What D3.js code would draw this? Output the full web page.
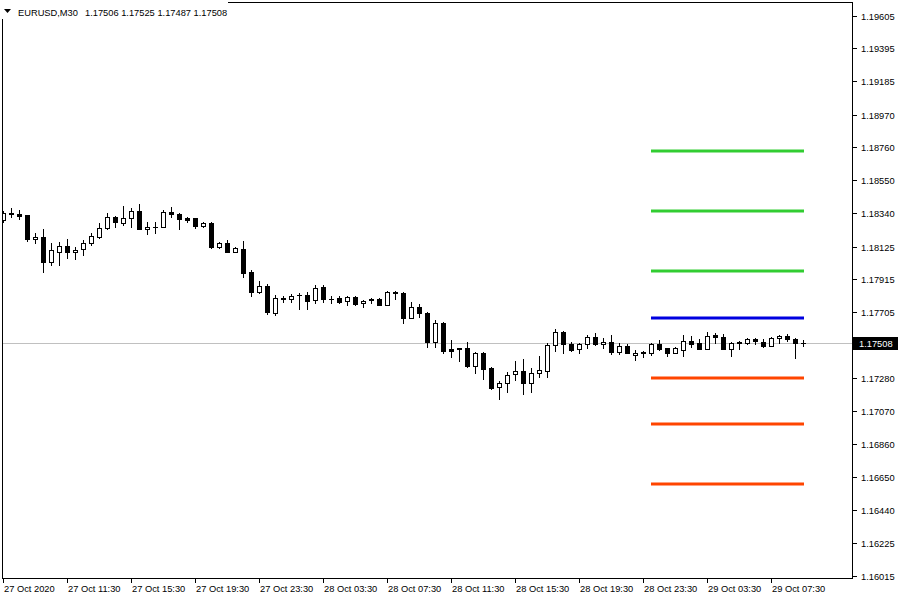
<!DOCTYPE html>
<html><head><meta charset="utf-8">
<script src="https://cdn.jsdelivr.net/npm/d3@7/dist/d3.min.js"></script>
<style>
html,body{margin:0;padding:0;background:#fff;}
svg{display:block;}
text{font-family:"Liberation Sans",Arial,sans-serif;font-size:9.3px;}
</style></head>
<body>
<svg id="chart" width="900" height="600"></svg>
<script>
const symbol = "EURUSD,M30";
const lastQuote = ["1.17506","1.17525","1.17487","1.17508"];
const currentPrice = 1.17508;

const openP = [1.18296,1.18338,1.18335,1.18328,1.18175,1.18188,1.18028,1.18092,1.18130,1.18092,
1.18111,1.18149,1.18188,1.18245,1.18315,1.18277,1.18309,1.18354,1.18239,1.18252,
1.18250,1.18347,1.18335,1.18309,1.18305,1.18258,1.18277,1.18124,1.18149,1.18092,
1.18111,1.17964,1.17836,1.17874,1.17701,1.17797,1.17791,1.17812,1.17816,1.17784,
1.17868,1.17791,1.17797,1.17778,1.17804,1.17765,1.17782,1.17791,1.17752,1.17833,
1.17829,1.17669,1.17740,1.17701,1.17515,1.17637,1.17471,1.17477,1.17477,1.17362,
1.17445,1.17349,1.17228,1.17253,1.17311,1.17330,1.17253,1.17317,1.17330,1.17496,
1.17580,1.17503,1.17471,1.17503,1.17548,1.17503,1.17515,1.17452,1.17490,1.17432,
1.17443,1.17445,1.17503,1.17477,1.17445,1.17464,1.17522,1.17509,1.17471,1.17560,
1.17548,1.17471,1.17515,1.17509,1.17535,1.17515,1.17490,1.17541,1.17554,1.17535,
1.17506];
const highP = [1.18354,1.18373,1.18360,1.18330,1.18213,1.18239,1.18149,1.18156,1.18175,1.18124,
1.18168,1.18213,1.18277,1.18341,1.18318,1.18386,1.18373,1.18399,1.18284,1.18284,
1.18360,1.18379,1.18341,1.18315,1.18309,1.18284,1.18284,1.18156,1.18168,1.18124,
1.18162,1.17976,1.17906,1.17887,1.17816,1.17810,1.17823,1.17829,1.17836,1.17880,
1.17880,1.17810,1.17810,1.17810,1.17806,1.17780,1.17797,1.17793,1.17842,1.17842,
1.17836,1.17772,1.17759,1.17704,1.17656,1.17640,1.17528,1.17478,1.17515,1.17452,
1.17452,1.17356,1.17266,1.17324,1.17394,1.17407,1.17349,1.17426,1.17509,1.17599,
1.17586,1.17515,1.17509,1.17560,1.17573,1.17541,1.17560,1.17509,1.17503,1.17464,
1.17458,1.17509,1.17528,1.17478,1.17483,1.17560,1.17554,1.17535,1.17580,1.17573,
1.17567,1.17512,1.17518,1.17541,1.17541,1.17535,1.17544,1.17560,1.17567,1.17537,
1.17525];
const lowP = [1.18284,1.18315,1.18303,1.18162,1.18149,1.17964,1.18008,1.18008,1.18053,1.18047,
1.18072,1.18136,1.18181,1.18240,1.18252,1.18264,1.18252,1.18236,1.18207,1.18213,
1.18248,1.18315,1.18239,1.18284,1.18245,1.18252,1.18117,1.18117,1.18088,1.18088,
1.17932,1.17810,1.17830,1.17695,1.17688,1.17772,1.17772,1.17727,1.17727,1.17765,
1.17772,1.17765,1.17765,1.17752,1.17752,1.17740,1.17765,1.17750,1.17750,1.17791,
1.17637,1.17666,1.17676,1.17483,1.17483,1.17445,1.17420,1.17394,1.17356,1.17317,
1.17279,1.17215,1.17151,1.17196,1.17272,1.17183,1.17196,1.17292,1.17292,1.17458,
1.17445,1.17458,1.17445,1.17477,1.17496,1.17477,1.17439,1.17439,1.17442,1.17400,
1.17420,1.17432,1.17464,1.17426,1.17442,1.17426,1.17483,1.17468,1.17468,1.17509,
1.17468,1.17426,1.17471,1.17503,1.17503,1.17483,1.17487,1.17509,1.17522,1.17413,
1.17487];
const closeP = [1.18341,1.18335,1.18322,1.18175,1.18188,1.18028,1.18104,1.18130,1.18092,1.18104,
1.18149,1.18194,1.18245,1.18315,1.18284,1.18309,1.18354,1.18239,1.18252,1.18248,
1.18347,1.18335,1.18303,1.18296,1.18258,1.18277,1.18124,1.18149,1.18092,1.18117,
1.17957,1.17836,1.17874,1.17708,1.17797,1.17791,1.17810,1.17816,1.17778,1.17861,
1.17791,1.17788,1.17772,1.17804,1.17759,1.17778,1.17786,1.17752,1.17836,1.17829,
1.17669,1.17740,1.17701,1.17515,1.17637,1.17458,1.17458,1.17471,1.17362,1.17445,
1.17343,1.17221,1.17253,1.17304,1.17330,1.17253,1.17317,1.17336,1.17496,1.17580,
1.17503,1.17464,1.17503,1.17548,1.17503,1.17515,1.17452,1.17490,1.17445,1.17445,
1.17447,1.17503,1.17471,1.17445,1.17477,1.17522,1.17503,1.17471,1.17554,1.17548,
1.17471,1.17509,1.17509,1.17535,1.17522,1.17490,1.17541,1.17554,1.17535,1.17509,
1.17508];

const timeLabels = ["27 Oct 2020","27 Oct 11:30","27 Oct 15:30","27 Oct 19:30","27 Oct 23:30",
"28 Oct 03:30","28 Oct 07:30","28 Oct 11:30","28 Oct 15:30","28 Oct 19:30","28 Oct 23:30",
"29 Oct 03:30","29 Oct 07:30"];
const barsPerLabel = 8;

const priceTicks = ["1.19605","1.19395","1.19185","1.18970","1.18760","1.18550","1.18340","1.18125",
"1.17915","1.17705","1.17280","1.17070","1.16860","1.16650","1.16440","1.16225","1.16015"];

const levelPrices = [1.18738,1.18353,1.17969,1.17668,1.17284,1.16989,1.16605];
const levelColors = ["#32cd32","#32cd32","#32cd32","#0000e0","#ff4500","#ff4500","#ff4500"];
const levelStartBar = 81, levelEndBar = 100;

const svg = d3.select("#chart");
const W = 900, H = 600;
const plot = {left:2, top:2, right:852, bottom:578};

const n = openP.length;
const x = d3.scaleLinear().domain([0, n-1]).range([3, 803]);
const y = d3.scaleLinear().domain([1.16015, 1.19605]).range([576, 15.5]);
const py = v => Math.round(y(v));

svg.append("rect").attr("width",W).attr("height",H).attr("fill","#fff");

svg.append("defs").append("clipPath").attr("id","clip").append("rect")
  .attr("x",plot.left+1).attr("y",plot.top+1)
  .attr("width",plot.right-plot.left-1).attr("height",plot.bottom-plot.top-1);

const g = svg.append("g").attr("clip-path","url(#clip)");

// current price line
g.append("line").attr("x1",plot.left).attr("x2",plot.right)
  .attr("y1",py(currentPrice)+0.5).attr("y2",py(currentPrice)+0.5)
  .attr("stroke","#c0c0c0").attr("stroke-width",1);

// levels
g.selectAll("line.level").data(levelPrices).join("line").attr("class","level")
  .attr("x1",x(levelStartBar)).attr("x2",x(levelEndBar)+1)
  .attr("y1",d=>py(d)).attr("y2",d=>py(d))
  .attr("stroke",(d,i)=>levelColors[i]).attr("stroke-width",3);

const bars = d3.range(n).map(i=>({i,o:openP[i],h:highP[i],l:lowP[i],c:closeP[i]}));

// wicks
g.selectAll("line.wick").data(bars).join("line").attr("class","wick")
  .attr("x1",d=>x(d.i)+0.5).attr("x2",d=>x(d.i)+0.5)
  .attr("y1",d=>py(d.h)).attr("y2",d=>py(d.l)+1)
  .attr("stroke","#000").attr("stroke-width",1);

// bodies
bars.forEach(d=>{
  const cx = x(d.i);
  const t = py(Math.max(d.o,d.c)), b = py(Math.min(d.o,d.c));
  if (b - t < 1) {
    g.append("rect").attr("x",cx-2).attr("y",t).attr("width",5).attr("height",1).attr("fill","#000");
  } else if (d.c > d.o) {
    g.append("rect").attr("x",cx-2+0.5).attr("y",t+0.5).attr("width",4).attr("height",b-t)
      .attr("fill","#fff").attr("stroke","#000").attr("stroke-width",1);
  } else {
    g.append("rect").attr("x",cx-2).attr("y",t).attr("width",5).attr("height",b-t+1).attr("fill","#000");
  }
});

// frame
svg.append("rect").attr("x",plot.left+0.5).attr("y",plot.top+0.5)
  .attr("width",plot.right-plot.left).attr("height",plot.bottom-plot.top)
  .attr("fill","none").attr("stroke","#000").attr("stroke-width",1);

// header
svg.append("rect").attr("x",0).attr("y",0).attr("width",228).attr("height",19).attr("fill","#fff");
svg.append("path").attr("d","M4,9 L11,9 L7.5,13 Z").attr("fill","#000");
svg.append("text").attr("x",18).attr("y",16).attr("fill","#000").text(symbol);
svg.append("text").attr("x",85).attr("y",16).attr("fill","#000").text(lastQuote.join(" "));

// y axis
const yAxisG = svg.append("g");
priceTicks.forEach(t=>{
  const yy = py(+t);
  yAxisG.append("line").attr("x1",plot.right+1).attr("x2",plot.right+5)
    .attr("y1",yy+0.5).attr("y2",yy+0.5).attr("stroke","#000");
  yAxisG.append("text").attr("x",861).attr("y",yy+3.5).attr("fill","#000").text(t);
});
// current price box
const cy = py(currentPrice);
svg.append("rect").attr("x",plot.right+1).attr("y",cy-6).attr("width",45).attr("height",13).attr("fill","#000");
svg.append("text").attr("x",859).attr("y",cy+4).attr("fill","#fff").text(lastQuote[3]);

// x axis
timeLabels.forEach((lab,j)=>{
  const xx = x(j*barsPerLabel);
  svg.append("line").attr("x1",xx+0.5).attr("x2",xx+0.5)
    .attr("y1",plot.bottom+1).attr("y2",plot.bottom+5).attr("stroke","#000");
  svg.append("text").attr("x",xx+1).attr("y",592).attr("fill","#000").text(lab);
});
</script>
</body></html>
